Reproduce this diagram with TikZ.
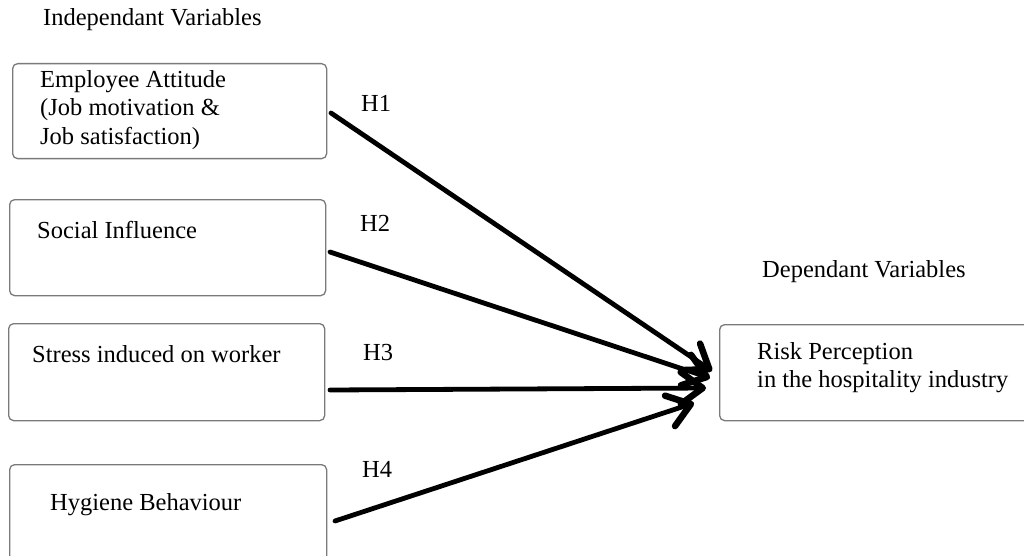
\documentclass[tikz,border=0pt]{standalone}
\usepackage{fontspec}
\setmainfont{Liberation Serif}
\usetikzlibrary{positioning,arrows.meta}
\definecolor{boxgray}{HTML}{7A7A7A}

\begin{document}
\begin{tikzpicture}[x=1pt, y=-1pt,
      varbox/.style={draw=boxgray, line width=1.3pt, rounded corners=5pt,
                     anchor=north west, inner sep=0pt},
      vartext/.style={anchor=base west, inner sep=0pt, font=\fontsize{24.5}{28.5}\selectfont},
      hyp/.style={line width=4.8pt, line cap=round,
                  -{Straight Barb[length=22pt, width=32pt, line width=6.5pt, round]}}]
      \useasboundingbox (0,0) rectangle (1024,556);
      % boxes
      \node[varbox, minimum width=314pt, minimum height=95pt] (b1) at (12,63) {};
      \node[varbox, minimum width=316pt, minimum height=96pt] (b2) at (9,199) {};
      \node[varbox, minimum width=316pt, minimum height=97pt] (b3) at (8,323) {};
      \node[varbox, minimum width=317pt, minimum height=110pt] (b4) at (9,464) {};
      \node[varbox, minimum width=330pt, minimum height=96pt] (dv) at (719,324) {};
      % texts
      \node[vartext] (ivtitle) at (43,26) {Independant Variables};
      \node[vartext] (dvtitle) at (762,277) {Dependant Variables};
      \node[vartext, align=left, anchor=north west] (t1) at (40,70)
        {Employee Attitude\\(Job motivation \&\\Job satisfaction)};
      \node[vartext] (t2) at (37,238) {Social Influence};
      \node[vartext] (t3) at (32,362) {Stress induced on worker};
      \node[vartext] (t4) at (50,510) {Hygiene Behaviour};
      \node[vartext, align=left, anchor=north west] (tdv) at (757,342)
        {Risk Perception\\in the hospitality industry};
      % hypotheses
      \coordinate (s1) at (331,113);
      \coordinate (s2) at (330,252);
      \coordinate (s3) at (330,390);
      \coordinate (s4) at (335,521);
      \coordinate (e1) at (712,371);
      \coordinate (e2) at (710,378);
      \coordinate (e3) at (706,388);
      \coordinate (e4) at (694,403);
      \draw[hyp] (s1) -- (e1);
      \draw[hyp] (s2) -- (e2);
      \draw[hyp] (s3) -- (e3);
      \draw[hyp] (s4) -- (e4);
      \node[vartext] (h1) at (361,112) {H1};
      \node[vartext] (h2) at (360,231) {H2};
      \node[vartext] (h3) at (363,360) {H3};
      \node[vartext] (h4) at (362,477) {H4};
    \end{tikzpicture}
\end{document}
